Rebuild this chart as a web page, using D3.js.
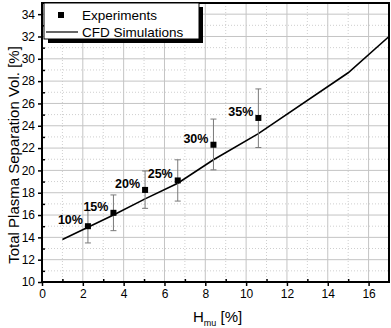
<!DOCTYPE html>
<meta charset="utf-8">
<head>
  <script src="https://d3js.org/d3.v7.min.js"></script>
</head>
<style>
body { margin: 0; background: #fff; }
svg { font-family: Arial, "Liberation Sans", sans-serif; }
.tick-label { font-size: 12px; fill: #000; }
.pct-label { font-size: 12.5px; font-weight: bold; }
.legend-text { font-size: 13.5px; }
.axis-title { font-size: 15px; }
</style>
<body>
<svg width="391" height="328" id="chart"></svg>
<script>

// experimental points: concentration label, H_mu, volume, error bar low/high
var labels = ['10%', '15%', '20%', '25%', '30%', '35%'];
var hmu    = [2.25, 3.5, 5.05, 6.65, 8.4, 10.6];
var volume = [15.0, 16.2, 18.25, 19.1, 22.3, 24.7];
var errLow = [13.5, 14.6, 16.6, 17.25, 20.05, 22.05];
var errHigh= [16.4, 17.8, 19.95, 20.95, 24.6, 27.3];

// CFD simulation curve
var cfdX = [1, 2.25, 3.5, 5.05, 6.65, 8.4, 10.6, 15, 17];
var cfdY = [13.8, 14.9, 16.0, 17.45, 18.85, 20.95, 23.3, 28.75, 32];

var xTicks = [0, 2, 4, 6, 8, 10, 12, 14, 16];
var yTicks = [10, 12, 14, 16, 18, 20, 22, 24, 26, 28, 30, 32, 34];

var svg = d3.select('#chart');
var plotLeft = 42, plotRight = 389, plotTop = 3, plotBottom = 282;

var x = d3.scaleLinear().domain([0, 17]).range([plotLeft, plotRight]);
var y = d3.scaleLinear().domain([10, 35]).range([plotBottom, plotTop]);

var grid = svg.append('g');
// minor grid (odd values), dotted
d3.range(1, 17, 2).forEach(function(v) {
  grid.append('line').attr('x1', x(v)).attr('x2', x(v)).attr('y1', plotTop).attr('y2', plotBottom)
      .attr('stroke', '#cfcfcf').attr('stroke-dasharray', '1,2');
});
d3.range(11, 35, 2).forEach(function(v) {
  grid.append('line').attr('y1', y(v)).attr('y2', y(v)).attr('x1', plotLeft).attr('x2', plotRight)
      .attr('stroke', '#cfcfcf').attr('stroke-dasharray', '1,2');
});
// major grid
xTicks.slice(1).forEach(function(v) {
  grid.append('line').attr('x1', x(v)).attr('x2', x(v)).attr('y1', plotTop).attr('y2', plotBottom)
      .attr('stroke', '#c4c4c4');
});
yTicks.slice(1).forEach(function(v) {
  grid.append('line').attr('y1', y(v)).attr('y2', y(v)).attr('x1', plotLeft).attr('x2', plotRight)
      .attr('stroke', '#c4c4c4');
});

// axes
var xAxis = svg.append('g').attr('transform', 'translate(0,' + plotBottom + ')')
  .call(d3.axisBottom(x).tickValues(xTicks).tickSize(4).tickPadding(3).tickFormat(d3.format('d')));
var xMinor = svg.append('g').attr('transform', 'translate(0,' + plotBottom + ')')
  .call(d3.axisTop(x).tickValues(d3.range(1, 17, 2)).tickSize(3).tickFormat(''));
var yAxis = svg.append('g').attr('transform', 'translate(' + plotLeft + ',0)')
  .call(d3.axisLeft(y).tickValues(yTicks).tickSize(4).tickPadding(3).tickFormat(d3.format('d')));
var yMinor = svg.append('g').attr('transform', 'translate(' + plotLeft + ',0)')
  .call(d3.axisRight(y).tickValues(d3.range(11, 35, 2)).tickSize(3).tickFormat(''));

[xAxis, yAxis, xMinor, yMinor].forEach(function(a) {
  a.select('.domain').remove();
  a.selectAll('.tick line').attr('stroke', '#000').attr('stroke-width', 1.5);
  a.selectAll('.tick text').attr('class', 'tick-label').attr('font-family', null).attr('font-size', null);
});

// frame
svg.append('rect').attr('x', plotLeft).attr('y', plotTop)
   .attr('width', plotRight - plotLeft).attr('height', plotBottom - plotTop)
   .attr('fill', 'none').attr('stroke', '#000').attr('stroke-width', 2);

// CFD line
var line = d3.line().x(function(d) { return x(d[0]); }).y(function(d) { return y(d[1]); });
svg.append('path').datum(d3.zip(cfdX, cfdY)).attr('d', line)
   .attr('fill', 'none').attr('stroke', '#000').attr('stroke-width', 1.6);

// error bars
var pts = svg.append('g').selectAll('g').data(d3.range(hmu.length)).enter().append('g');
pts.append('line').attr('x1', function(i) { return x(hmu[i]); }).attr('x2', function(i) { return x(hmu[i]); })
   .attr('y1', function(i) { return y(errLow[i]); }).attr('y2', function(i) { return y(errHigh[i]); })
   .attr('stroke', '#7a7a7a');
[errLow, errHigh].forEach(function(arr) {
  pts.append('line').attr('x1', function(i) { return x(hmu[i]) - 3; }).attr('x2', function(i) { return x(hmu[i]) + 3; })
     .attr('y1', function(i) { return y(arr[i]); }).attr('y2', function(i) { return y(arr[i]); })
     .attr('stroke', '#7a7a7a');
});
pts.append('rect').attr('x', function(i) { return x(hmu[i]) - 3; }).attr('y', function(i) { return y(volume[i]) - 3; })
   .attr('width', 6).attr('height', 6).attr('fill', '#000');
pts.append('text').attr('class', 'pct-label').attr('text-anchor', 'end')
   .attr('x', function(i) { return x(hmu[i]) - 5; }).attr('y', function(i) { return y(volume[i]) - 2; })
   .text(function(i) { return labels[i]; });

// legend
var lg = svg.append('g');
lg.append('rect').attr('x', 48).attr('y', 7).attr('width', 155).attr('height', 36).attr('fill', '#000');
lg.append('rect').attr('x', 44).attr('y', 3).attr('width', 155).attr('height', 36)
  .attr('fill', '#fff').attr('stroke', '#000').attr('stroke-width', 1);
lg.append('rect').attr('x', 58).attr('y', 12).attr('width', 6).attr('height', 6).attr('fill', '#000');
lg.append('text').attr('class', 'legend-text').attr('x', 82).attr('y', 20).text('Experiments');
lg.append('line').attr('x1', 46).attr('x2', 78).attr('y1', 32).attr('y2', 32).attr('stroke', '#000').attr('stroke-width', 1.2);
lg.append('text').attr('class', 'legend-text').attr('x', 82).attr('y', 37).text('CFD Simulations');

// axis titles
svg.append('text').attr('class', 'axis-title').attr('text-anchor', 'middle')
   .attr('font-size', '15.5px')
   .attr('transform', 'translate(19,155) rotate(-90)')
   .text('Total Plasma Separation Vol. [%]');
var xt = svg.append('text').attr('class', 'axis-title').attr('x', 193).attr('y', 322);
xt.append('tspan').text('H');
xt.append('tspan').attr('font-size', '9px').attr('dy', 4).text('mu');
xt.append('tspan').attr('dy', -4).text(' [%]');

</script>
</body>
